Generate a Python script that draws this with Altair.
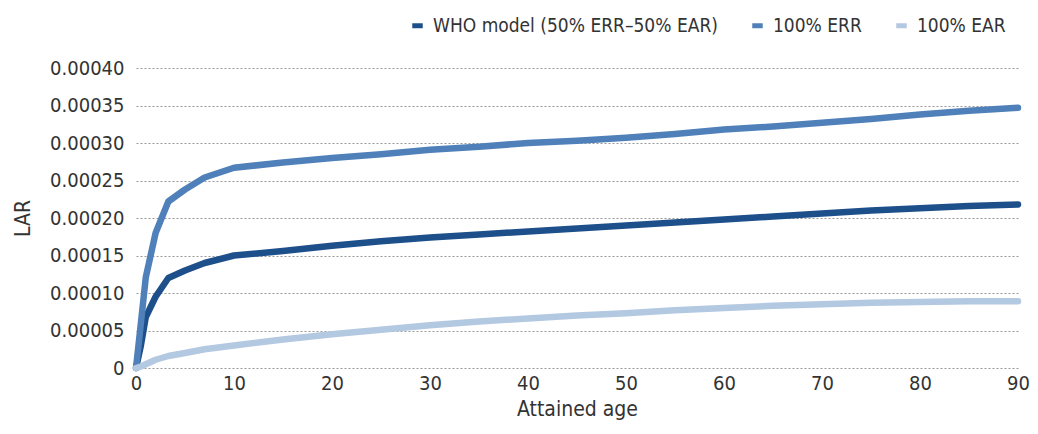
import altair as alt
import pandas as pd

ages = [0, 0.5, 1, 2, 3.3, 5, 7, 10, 15, 20, 25, 30, 35, 40, 45, 50, 55, 60, 65, 70, 75, 80, 85, 90]
who = [0, 0.00003, 0.000068, 0.000095, 0.00012, 0.00013, 0.00014, 0.00015, 0.000156, 0.000163, 0.000169, 0.000174, 0.000178, 0.000182, 0.000186, 0.00019, 0.000194, 0.000198, 0.000202, 0.000206, 0.00021, 0.000213, 0.000216, 0.000218]
err = [0, 0.00006, 0.000121, 0.00018, 0.000222, 0.000238, 0.000254, 0.000267, 0.000274, 0.00028, 0.000285, 0.000291, 0.000295, 0.0003, 0.000303, 0.000307, 0.000312, 0.000318, 0.000322, 0.000327, 0.000332, 0.000338, 0.000343, 0.000347]
ear = [0, 0.000002, 0.000005, 0.000011, 0.000016, 0.00002, 0.000025, 0.00003, 0.000038, 0.000045, 0.000051, 0.000057, 0.000062, 0.000066, 0.00007, 0.000073, 0.000077, 0.00008, 0.000083, 0.000085, 0.000087, 0.000088, 0.000089, 0.000089]

series = ["WHO model (50% ERR\u201350% EAR)", "100% ERR", "100% EAR"]
colors = ["#1d4f8a", "#4f80b9", "#b3c8e1"]

rows = []
for name, vals in zip(series, [who, err, ear]):
    for a, v in zip(ages, vals):
        rows.append({"age": a, "lar": v, "series": name})
df = pd.DataFrame(rows)

font = "DejaVu Sans Condensed"

chart = alt.Chart(df).mark_line(strokeWidth=6.5, strokeCap="round", strokeJoin="round").encode(
    x=alt.X("age:Q", scale=alt.Scale(domain=[0, 90], nice=False),
            axis=alt.Axis(title="Attained age", values=list(range(0, 100, 10)), grid=False,
                          domain=False, ticks=False, labelFontSize=20, labelColor="#333",
                          titleFontSize=21, titleColor="#333", titleFontWeight="normal",
                          labelFlush=False, labelPadding=5, titlePadding=5,
                          labelFont=font, titleFont=font)),
    y=alt.Y("lar:Q", scale=alt.Scale(domain=[0, 0.0004], nice=False),
            axis=alt.Axis(title="LAR", values=[i * 0.00005 for i in range(9)],
                          labelExpr="datum.value == 0 ? '0' : format(datum.value, '.5f')",
                          grid=True, gridDash=[2, 2], gridColor="#999", gridWidth=1,
                          domain=False, ticks=False, labelFontSize=20, labelColor="#333",
                          titleFontSize=21, titleColor="#333", titleFontWeight="normal",
                          labelFlush=False, labelPadding=12, titlePadding=16,
                          labelFont=font, titleFont=font)),
    color=alt.Color("series:N", scale=alt.Scale(domain=series, range=colors),
                    legend=alt.Legend(title=None, orient="none", legendX=272, legendY=-52,
                                      direction="horizontal", symbolType="stroke",
                                      symbolStrokeWidth=5, symbolSize=110, labelFontSize=19,
                                      labelColor="#333", labelFont=font, columnPadding=24,
                                      labelLimit=400, labelOffset=6)),
    order=alt.Order("age:Q"),
).properties(
    width=882, height=300,
    padding={"left": 128, "top": 60, "right": 12, "bottom": 56},
    autosize=alt.AutoSizeParams(type="none"),
).configure_view(stroke=None)

chart.save("out.html", embed_options={"renderer": "svg", "actions": False})
